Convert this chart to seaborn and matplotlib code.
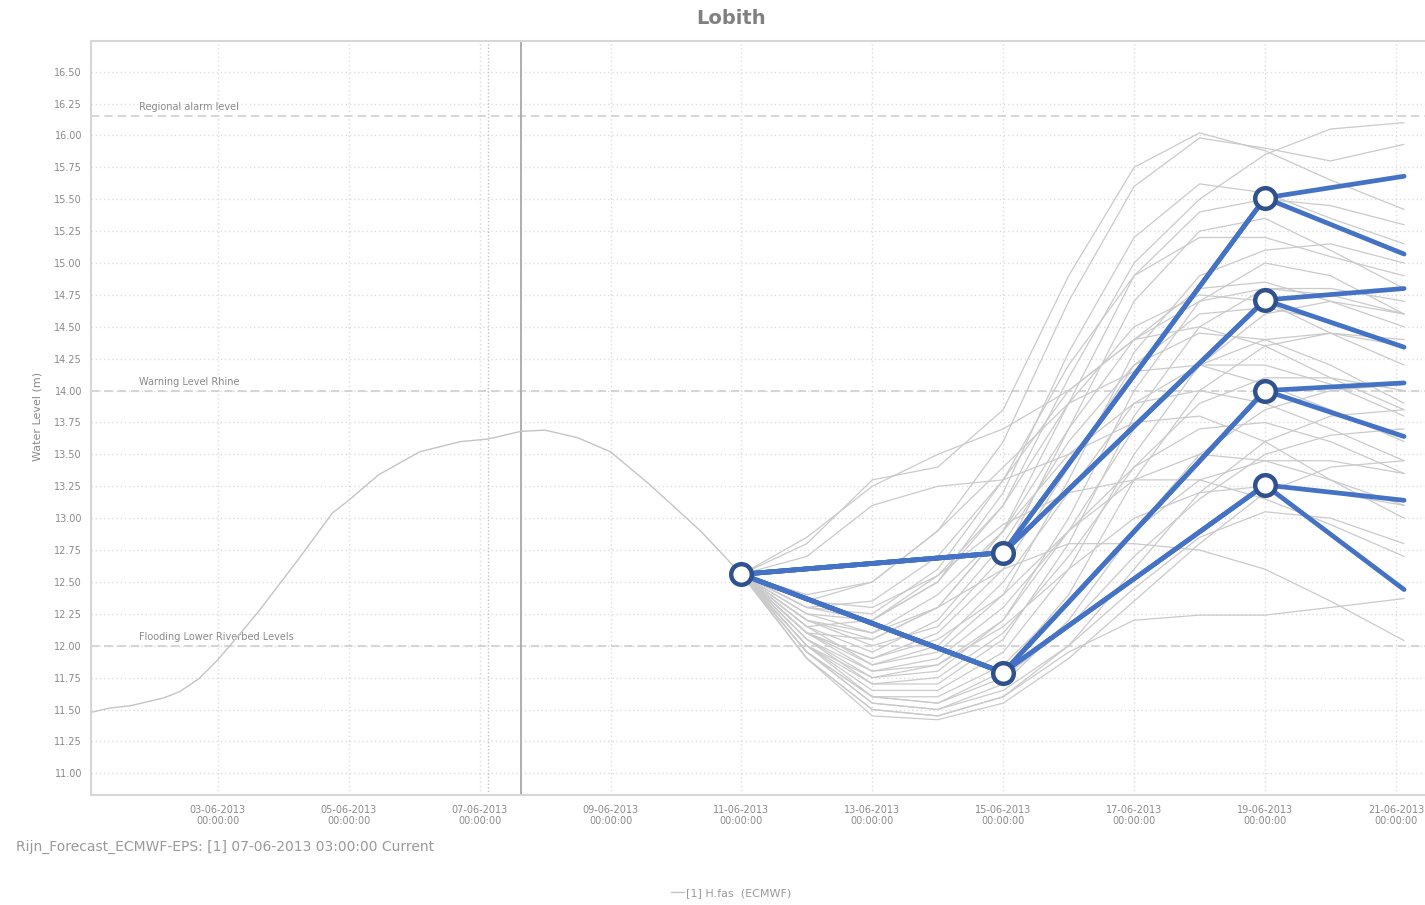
import matplotlib
matplotlib.use("Agg")
import matplotlib.pyplot as plt
import matplotlib.dates as mdates
from matplotlib.lines import Line2D
import seaborn as sns
import pandas as pd

# observed water level (and shared forecast part up to 11-06)
obs_times = ['2013-06-01 02:00', '2013-06-01 08:00', '2013-06-01 16:00', '2013-06-02 00:00',
             '2013-06-02 04:00', '2013-06-02 10:00', '2013-06-02 17:00', '2013-06-03 00:00',
             '2013-06-03 08:00', '2013-06-03 15:00', '2013-06-04 06:00', '2013-06-04 18:00',
             '2013-06-05 00:00', '2013-06-05 11:00', '2013-06-06 02:00', '2013-06-06 17:00',
             '2013-06-07 03:00', '2013-06-07 15:00', '2013-06-08 00:00', '2013-06-08 12:00',
             '2013-06-09 00:00', '2013-06-09 14:00', '2013-06-10 09:00', '2013-06-11 00:00']
obs_levels = [11.48, 11.51, 11.53, 11.57, 11.59, 11.64, 11.74, 11.89,
              12.09, 12.27, 12.69, 13.04, 13.14, 13.34, 13.52, 13.60,
              13.62, 13.68, 13.69, 13.63, 13.52, 13.27, 12.90, 12.56]

# ensemble members, daily from 11-06 to 21-06 03:00
ens_times = ['2013-06-11', '2013-06-12', '2013-06-13', '2013-06-14', '2013-06-15', '2013-06-16',
             '2013-06-17', '2013-06-18', '2013-06-19', '2013-06-20', '2013-06-21 03:00']
ens_levels = [
    [12.56, 12.80, 13.30, 13.40, 13.85, 14.90, 15.75, 16.02, 15.88, 15.65, 15.42],
    [12.56, 12.35, 12.30, 12.55, 13.10, 14.10, 15.00, 15.50, 15.85, 16.05, 16.10],
    [12.56, 12.40, 12.50, 12.90, 13.60, 14.70, 15.60, 15.98, 15.90, 15.80, 15.93],
    [12.56, 12.30, 12.20, 12.50, 13.20, 14.30, 15.20, 15.62, 15.55, 15.35, 15.15],
    [12.56, 12.25, 12.10, 12.30, 12.90, 13.90, 14.90, 15.40, 15.50, 15.45, 15.30],
    [12.56, 12.20, 12.00, 12.15, 12.70, 13.70, 14.70, 15.25, 15.35, 15.10, 14.80],
    [12.56, 12.30, 12.25, 12.60, 13.30, 14.20, 14.90, 15.20, 15.20, 15.05, 14.90],
    [12.56, 12.15, 11.85, 11.95, 12.40, 13.30, 14.30, 14.90, 15.10, 15.15, 15.00],
    [12.56, 12.10, 11.80, 11.85, 12.20, 13.00, 14.00, 14.70, 15.00, 14.90, 14.60],
    [12.56, 12.20, 12.05, 12.30, 12.90, 13.70, 14.40, 14.80, 14.85, 14.70, 14.50],
    [12.56, 12.05, 11.70, 11.70, 12.05, 12.80, 13.80, 14.50, 14.80, 14.80, 14.70],
    [12.56, 12.25, 12.20, 12.50, 13.10, 13.90, 14.50, 14.75, 14.70, 14.45, 14.20],
    [12.56, 12.10, 11.90, 12.10, 12.60, 13.40, 14.20, 14.60, 14.65, 14.55, 14.35],
    [12.56, 12.00, 11.65, 11.65, 11.95, 12.60, 13.50, 14.20, 14.60, 14.70, 14.60],
    [12.56, 12.30, 12.35, 12.70, 13.30, 14.00, 14.40, 14.50, 14.35, 14.10, 13.85],
    [12.56, 12.15, 11.95, 12.20, 12.80, 13.60, 14.20, 14.45, 14.40, 14.20, 13.90],
    [12.56, 12.05, 11.75, 11.80, 12.20, 12.90, 13.70, 14.20, 14.40, 14.45, 14.35],
    [12.56, 11.95, 11.60, 11.55, 11.80, 12.40, 13.30, 14.00, 14.35, 14.45, 14.40],
    [12.56, 12.35, 12.50, 12.90, 13.40, 13.90, 14.15, 14.20, 14.05, 13.85, 13.60],
    [12.56, 12.10, 11.85, 12.00, 12.50, 13.20, 13.90, 14.20, 14.20, 14.05, 13.80],
    [12.56, 12.00, 11.70, 11.75, 12.10, 12.70, 13.40, 13.90, 14.10, 14.10, 14.00],
    [12.56, 12.20, 12.10, 12.40, 12.90, 13.50, 13.90, 14.00, 13.90, 13.70, 13.45],
    [12.56, 11.95, 11.55, 11.50, 11.70, 12.20, 12.90, 13.50, 13.85, 14.00, 14.05],
    [12.56, 12.70, 13.10, 13.25, 13.30, 13.50, 13.75, 13.80, 13.60, 13.30, 13.00],
    [12.56, 12.05, 11.80, 11.90, 12.30, 12.90, 13.40, 13.70, 13.75, 13.60, 13.35],
    [12.56, 11.90, 11.50, 11.45, 11.60, 12.00, 12.60, 13.20, 13.60, 13.80, 13.85],
    [12.56, 12.85, 13.25, 13.50, 13.70, 14.00, 14.40, 14.70, 14.80, 14.75, 14.60],
    [12.56, 12.10, 11.90, 12.05, 12.40, 12.90, 13.30, 13.50, 13.45, 13.30, 13.10],
    [12.56, 11.95, 11.60, 11.60, 11.85, 12.35, 12.90, 13.30, 13.45, 13.45, 13.35],
    [12.56, 12.00, 11.75, 11.85, 12.15, 12.60, 13.00, 13.20, 13.25, 13.20, 13.10],
    [12.56, 12.10, 12.05, 12.30, 12.60, 12.80, 12.80, 12.75, 12.60, 12.35, 12.04],
    [12.56, 11.90, 11.50, 11.45, 11.60, 11.95, 12.20, 12.24, 12.24, 12.30, 12.37],
    [12.56, 11.95, 11.55, 11.50, 11.65, 12.00, 12.45, 12.85, 13.05, 13.00, 12.80],
    [12.56, 11.90, 11.45, 11.42, 11.55, 11.90, 12.35, 12.80, 13.20, 13.40, 13.45],
    [12.56, 12.00, 11.60, 11.55, 11.75, 12.15, 12.70, 13.15, 13.50, 13.65, 13.70],
    [12.56, 12.15, 12.20, 12.55, 12.95, 13.20, 13.30, 13.30, 13.15, 12.95, 12.70],
]

# scenario tree: root -> 15-06 node -> 19-06 node -> end
tree_times = ['2013-06-11', '2013-06-15', '2013-06-19', '2013-06-21 03:00']
tree_paths = [
    [12.56, 12.73, 15.51, 15.68],
    [12.56, 12.73, 15.51, 15.07],
    [12.56, 12.73, 14.71, 14.80],
    [12.56, 12.73, 14.71, 14.34],
    [12.56, 11.79, 14.00, 14.06],
    [12.56, 11.79, 14.00, 13.64],
    [12.56, 11.79, 13.26, 13.14],
    [12.56, 11.79, 13.26, 12.44],
]

thresholds = [16.15, 14.00, 12.00]
threshold_labels = ['Regional alarm level', 'Warning Level Rhine', 'Flooding Lower Riverbed Levels']

ens_df = pd.DataFrame([
    {'time': pd.Timestamp(t), 'level': v, 'member': i}
    for i, vals in enumerate(ens_levels) for t, v in zip(ens_times, vals)
])
obs_df = pd.DataFrame({'time': pd.to_datetime(obs_times), 'level': obs_levels})
tree_df = pd.DataFrame([
    {'time': pd.Timestamp(t), 'level': v, 'path': i}
    for i, vals in enumerate(tree_paths) for t, v in zip(tree_times, vals)
])
node_df = tree_df[tree_df['time'] < pd.Timestamp(tree_times[-1])].drop_duplicates(['time', 'level'])

sns.set_style("white")
plt.rcParams['font.family'] = ['DejaVu Sans']

fig = plt.figure(figsize=(14.25, 9.05), dpi=100)
ax = fig.add_axes([91 / 1425, 1 - 795 / 905, (1425 - 91) / 1425, (795 - 41) / 905])

grey_txt = '#8a8a8a'

# thresholds
for lvl, lab in zip(thresholds, threshold_labels):
    ax.axhline(lvl, color='#cfcfcf', lw=1.2, ls=(0, (5, 3)), zorder=1)
    ax.text(pd.Timestamp('2013-06-01 19:00'), lvl + 0.03, lab, fontsize=7, color=grey_txt,
            va='bottom', ha='left', zorder=2)

# forecast time markers
ax.axvline(pd.Timestamp('2013-06-07 03:00'), color='#c4c4c4', lw=1, ls=(0, (1, 1.5)), zorder=1)
ax.axvline(pd.Timestamp('2013-06-07 15:00'), color='#a8a8a8', lw=1.3, zorder=1)

sns.lineplot(data=ens_df, x='time', y='level', units='member', estimator=None,
             color='#cacaca', linewidth=0.9, ax=ax, legend=False, zorder=3)
sns.lineplot(data=obs_df, x='time', y='level', color='#c4c4c4', linewidth=1.0,
             ax=ax, legend=False, zorder=3)
sns.lineplot(data=tree_df, x='time', y='level', units='path', estimator=None,
             color='#4472C4', linewidth=3.4, ax=ax, legend=False, zorder=5)
sns.scatterplot(data=node_df, x='time', y='level', s=220, color='white',
                edgecolor='#2F528F', linewidth=3.2, ax=ax, legend=False, zorder=6)

ax.set_xlim(pd.Timestamp('2013-06-01 01:30'), pd.Timestamp('2013-06-21 10:40'))
ax.set_ylim(10.83, 16.74)
ax.set_yticks([11 + 0.25 * k for k in range(23)])
ax.yaxis.set_major_formatter(matplotlib.ticker.FormatStrFormatter('%.2f'))
ax.xaxis.set_major_locator(mdates.DayLocator(bymonthday=range(3, 22, 2)))
ax.xaxis.set_major_formatter(mdates.DateFormatter('%d-%m-%Y\n%H:%M:%S'))

ax.grid(True, color='#dcdcdc', lw=1, ls=(0, (1, 2)))
ax.set_axisbelow(True)
ax.tick_params(axis='both', labelsize=7, colors='#c8c8c8', labelcolor=grey_txt,
               length=3, width=0.8)
ax.tick_params(axis='x', pad=4)
for lab in ax.get_xticklabels():
    lab.set_linespacing(1.1)
ax.set_xlabel('')
ax.set_ylabel('')
for side in ['left', 'top', 'bottom']:
    ax.spines[side].set_color('#d6d6d6')
    ax.spines[side].set_linewidth(1.5)
ax.spines['right'].set_visible(False)

fig.text(731 / 1425, 1 - 19 / 905, 'Lobith', ha='center', va='center',
         fontsize=14, fontweight='bold', color='#808080')
fig.text(37 / 1425, 1 - 416 / 905, 'Water Level (m)', rotation=90, ha='center',
         va='center', fontsize=8, color=grey_txt)
fig.text(16 / 1425, 1 - 847 / 905, 'Rijn_Forecast_ECMWF-EPS: [1] 07-06-2013 03:00:00 Current',
         ha='left', va='center', fontsize=10, color='#9a9a9a')

handle = Line2D([], [], color='#c4c4c4', lw=1)
fig.legend([handle], ['[1] H.fas  (ECMWF)'], loc='center', bbox_to_anchor=(731 / 1425, 1 - 893 / 905),
           frameon=False, fontsize=8, labelcolor='#9a9a9a', handlelength=1.2, handletextpad=0.2)

fig.savefig('out.png', dpi=100)
